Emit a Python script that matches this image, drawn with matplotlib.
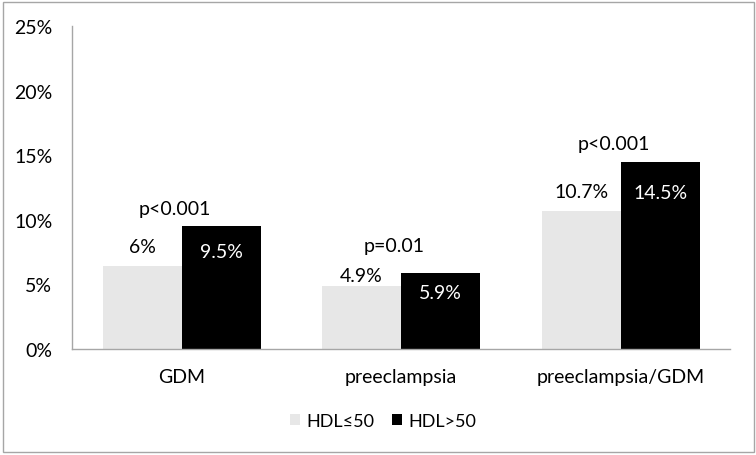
import numpy as np
import matplotlib
matplotlib.use("Agg")
import matplotlib.pyplot as plt
from matplotlib.patches import Rectangle

# ─── Data ──────────────────────────────────────────────────────────────────────
categories = ["GDM", "preeclampsia", "preeclampsia/GDM"]
series_names = ["HDL\u226450", "HDL>50"]
hdl_low = [6.45, 4.9, 10.7]
hdl_high = [9.5, 5.9, 14.5]
low_labels = ["6%", "4.9%", "10.7%"]
high_labels = ["9.5%", "5.9%", "14.5%"]
p_labels = ["p<0.001", "p=0.01", "p<0.001"]
p_heights = [10.9, 8.0, 15.9]
yticks = [0, 5, 10, 15, 20, 25]

# label offsets (points) from bar tops
low_offsets = [14, 7, 14]
high_offsets = [-18, -14, -22]

plt.rcParams["font.family"] = ["Lato", "DejaVu Sans"]

fig = plt.figure(figsize=(7.56, 4.56), dpi=100)
ax = fig.add_axes([0.095, 0.2325, 0.871, 0.7085])

x = np.arange(len(categories))
w = 0.36
ax.bar(x - w / 2, hdl_low, w, color="#e7e7e7", label=series_names[0])
ax.bar(x + w / 2, hdl_high, w, color="black", label=series_names[1])

fs = 14
for i in range(len(categories)):
    ax.annotate(low_labels[i], (x[i] - w / 2, hdl_low[i]), xytext=(0, low_offsets[i]),
                textcoords="offset points", ha="center", va="center",
                fontsize=fs, color="black")
    ax.annotate(high_labels[i], (x[i] + w / 2, hdl_high[i]), xytext=(0, high_offsets[i]),
                textcoords="offset points", ha="center", va="center",
                fontsize=fs, color="white")
    ax.text(x[i] - 0.03, p_heights[i], p_labels[i], ha="center", va="center",
            fontsize=fs, color="black")

ax.set_xlim(-0.5, 2.5)
ax.set_ylim(0, 25)
ax.set_yticks(yticks)
ax.set_yticklabels([f"{t}%" for t in yticks], fontsize=fs)
ax.set_xticks(x)
ax.set_xticklabels(categories, fontsize=fs)
ax.tick_params(axis="both", length=0, colors="black")
ax.tick_params(axis="y", pad=14)
ax.tick_params(axis="x", pad=14)

for s in ["top", "right"]:
    ax.spines[s].set_visible(False)
for s in ["left", "bottom"]:
    ax.spines[s].set_color("#a6a6a6")
    ax.spines[s].set_linewidth(1.0)

fig.legend(loc="center", bbox_to_anchor=(0.507, 0.075), ncol=2, frameon=False,
           fontsize=13, handlelength=0.55, handleheight=0.55, handletextpad=0.35,
           columnspacing=1.0)

# outer chart border
fig.patches.append(Rectangle((0.004, 0.007), 0.993, 0.986, transform=fig.transFigure,
                             fill=False, edgecolor="#a6a6a6", linewidth=1.0))

fig.savefig("out.png", dpi=100)
